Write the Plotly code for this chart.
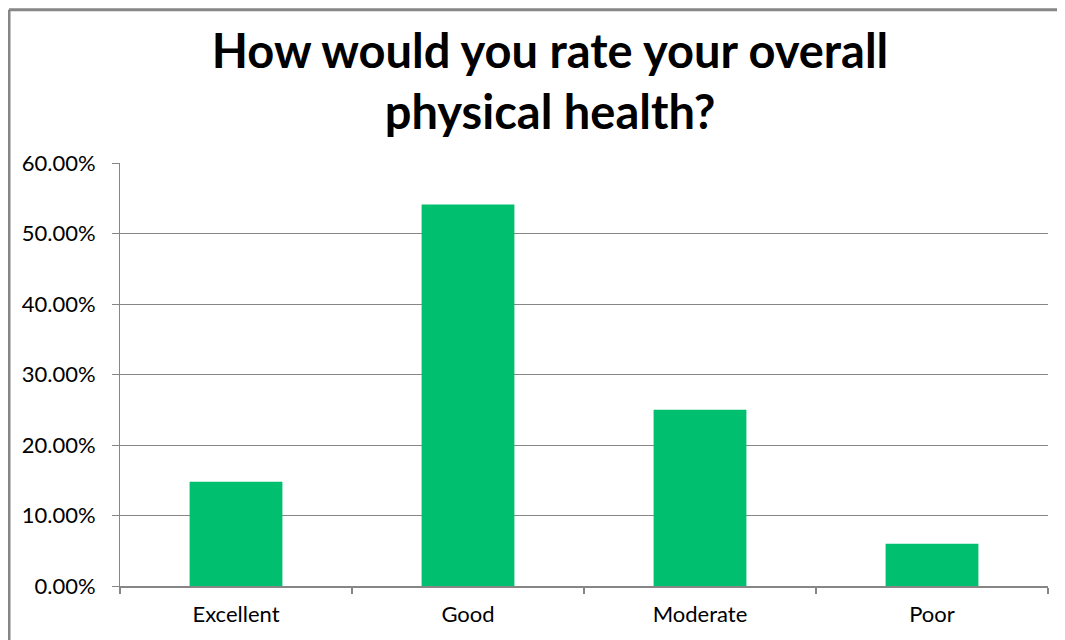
import plotly.graph_objects as go

# ---------------- data ----------------
categories = ['Excellent', 'Good', 'Moderate', 'Poor']
share = [0.148, 0.541, 0.250, 0.060]
y_ticks = [0, 0.1, 0.2, 0.3, 0.4, 0.5, 0.6]

grey = '#868686'
font_family = 'Gill Sans MT, Gill Sans, Lato, sans-serif'

fig = go.Figure(go.Bar(x=categories,
                       y=share,
                       marker=dict(color='#00BF6F', line=dict(width=0)),
                       hoverinfo='x+y'))

# page body adds an 8px offset, margins account for it
fig.update_layout(width=1065,
                  height=640,
                  margin=dict(l=112, r=25, t=155, b=62),
                  paper_bgcolor='white',
                  plot_bgcolor='white',
                  bargap=0.6,
                  showlegend=False,
                  font=dict(family=font_family, size=21, color='black'),
                  title=dict(text='<b>How would you rate your overall<br>physical health?</b>',
                             x=0.509,
                             xanchor='center',
                             yref='container',
                             y=0.906,
                             yanchor='top',
                             font=dict(size=47, family=font_family, color='black')))

fig.update_yaxes(range=[0, 0.6],
                 tickvals=y_ticks,
                 tickformat='.2%',
                 showgrid=True,
                 gridcolor=grey,
                 gridwidth=1,
                 showline=True,
                 linecolor=grey,
                 linewidth=1,
                 ticks='outside',
                 ticklen=7,
                 tickcolor=grey,
                 zeroline=False,
                 ticklabelstandoff=12,
                 tickfont=dict(size=22))

fig.update_xaxes(showline=True,
                 linecolor=grey,
                 linewidth=2,
                 ticks='outside',
                 tickson='boundaries',
                 ticklen=6,
                 tickcolor=grey,
                 tickwidth=2,
                 ticklabelstandoff=8,
                 tickfont=dict(size=22))

# Outer chart frame (top and left edges visible in the original)
fig.add_shape(type='line', xref='paper', yref='paper',
              x0=-0.1196, x1=1.2, y0=1.3625, y1=1.3625,
              line=dict(color=grey, width=3))
fig.add_shape(type='line', xref='paper', yref='paper',
              x0=-0.1196, x1=-0.1196, y0=1.3625, y1=-0.2,
              line=dict(color=grey, width=3))

fig.write_html('out.html')
